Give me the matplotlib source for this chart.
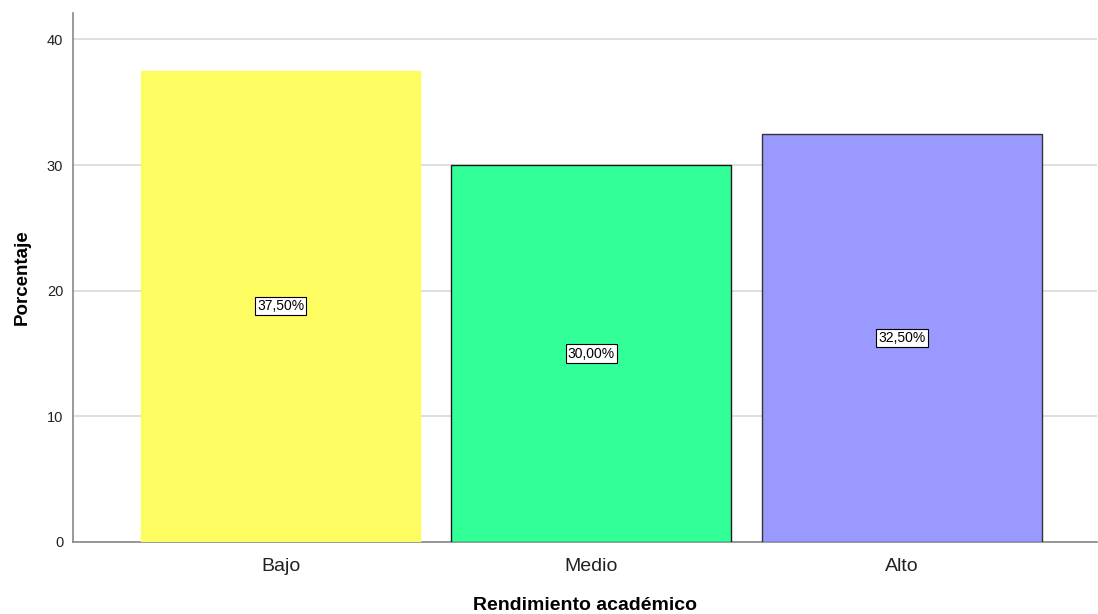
import matplotlib.pyplot as plt

plt.rcParams['font.family'] = ['Liberation Sans', 'DejaVu Sans']

categories = ['Bajo', 'Medio', 'Alto']
percent = [37.5, 30.0, 32.5]
bar_labels = ['37,50%', '30,00%', '32,50%']
colors = ['#FDFD62', '#33FF99', '#9999FF']
edges = ['#FDFD62', '#1a1a1a', '#333333']
yticks = [0, 10, 20, 30, 40]

fig = plt.figure(figsize=(10.98, 6.14), dpi=100)
ax = fig.add_axes([0.0665, 0.1173, 0.9326, 0.8615])

pos = list(range(len(categories)))
ax.bar(pos, percent, width=0.9, color=colors, edgecolor=edges, linewidth=1, zorder=3)

for p, v, t in zip(pos, percent, bar_labels):
    ax.text(p, v / 2, t, ha='center', va='center', fontsize=10, zorder=4,
            bbox=dict(boxstyle='square,pad=0.15', fc='white', ec='black', lw=0.8))

ax.set_xlim(-0.668, 2.628)
ax.set_ylim(0, 42.1)
ax.set_yticks(yticks)
ax.set_xticks(pos)
ax.set_xticklabels(categories, fontsize=14, color='#222222')
ax.tick_params(axis='y', length=0, labelsize=10.5, pad=7, labelcolor='#222222')
ax.tick_params(axis='x', length=0, pad=11.5)
ax.grid(axis='y', color='#d9d9d9', linewidth=1.2, zorder=0)

for s in ['top', 'right']:
    ax.spines[s].set_visible(False)
for s in ['left', 'bottom']:
    ax.spines[s].set_color('#888888')
    ax.spines[s].set_linewidth(1.2)

ax.set_ylabel('Porcentaje', fontsize=13.5, fontweight='bold', labelpad=12)
ax.set_xlabel('Rendimiento académico', fontsize=14, fontweight='bold', labelpad=16)

plt.savefig('out.png')
